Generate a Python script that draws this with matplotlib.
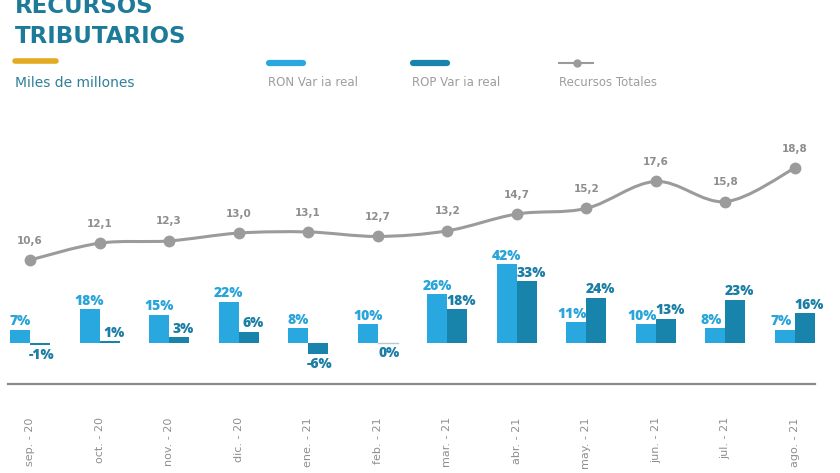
import numpy as np
import matplotlib
matplotlib.use('Agg')
import matplotlib.pyplot as plt
from matplotlib.path import Path
from matplotlib.patches import PathPatch
from matplotlib.lines import Line2D

plt.rcParams['font.family'] = 'DejaVu Sans'

# data
meses = ['sep. - 20', 'oct. - 20', 'nov. - 20', 'dic. - 20', 'ene. - 21', 'feb. - 21',
         'mar. - 21', 'abr. - 21', 'may. - 21', 'jun. - 21', 'jul. - 21', 'ago. - 21']
ron = [7, 18, 15, 22, 8, 10, 26, 42, 11, 10, 8, 7]
rop = [-1, 1, 3, 6, -6, 0, 18, 33, 24, 13, 23, 16]
totales = [10.6, 12.1, 12.3, 13.0, 13.1, 12.7, 13.2, 14.7, 15.2, 17.6, 15.8, 18.8]

c_ron = '#29a8df'
c_rop = '#1984ab'
c_ron_txt = '#2aa5da'
c_rop_txt = '#1b7ea5'
c_gris = '#9b9b9b'
c_titulo = '#1d7b99'
pct_font = dict(family=['Open Sans', 'DejaVu Sans'], fontsize=10, fontweight=800)

W, H = 840, 473
fig = plt.figure(figsize=(W / 100, H / 100), dpi=100)
fig.patch.set_facecolor('white')

# axes span pixel rows 100..384
ax = fig.add_axes([0, (H - 384) / H, 1, (384 - 100) / H])
ax2 = ax.twinx()

x = np.arange(len(meses))
bw = 0.288
ax.bar(x - bw / 2, ron, bw, color=c_ron, zorder=2)
ax.bar(x + bw / 2, rop, bw, color=c_rop, zorder=2)

for i, v in enumerate(ron):
    dx = -3 if rop[i] > v else 0
    ax.annotate(f'{v}%', (x[i] - bw / 2, v), xytext=(dx, 1), textcoords='offset points',
                ha='center', va='bottom', color=c_ron_txt, **pct_font)
for i, v in enumerate(rop):
    if v > 0:
        ax.annotate(f'{v}%', (x[i] + bw / 2, v), xytext=(3, 1), textcoords='offset points',
                    ha='center', va='bottom', color=c_rop_txt, **pct_font)
    else:
        ax.annotate(f'{v}%', (x[i] + bw / 2, v), xytext=(1, -2), textcoords='offset points',
                    ha='center', va='top', color=c_rop_txt, **pct_font)
# linea fina en barra 0%
for i, v in enumerate(rop):
    if v == 0:
        ax.plot([x[i], x[i] + bw], [0, 0], color='#b9c9d0', lw=1, zorder=2)

ax.set_xlim(-30 / 69.55, 11 + 45 / 69.55)
ax.set_ylim(-41 / 1.88, 243 / 1.88)

# smooth line (catmull-rom -> bezier)
pts = np.column_stack([x, totales]).astype(float)
verts = [tuple(pts[0])]
codes = [Path.MOVETO]
for i in range(len(pts) - 1):
    p0 = pts[max(i - 1, 0)]
    p1 = pts[i]
    p2 = pts[i + 1]
    p3 = pts[min(i + 2, len(pts) - 1)]
    c1 = p1 + (p2 - p0) / 6
    c2 = p2 - (p3 - p1) / 6
    verts += [tuple(c1), tuple(c2), tuple(p2)]
    codes += [Path.CURVE4] * 3
ax2.add_patch(PathPatch(Path(verts, codes), facecolor='none', edgecolor=c_gris, lw=2.2, zorder=3))
ax2.plot(x, totales, 'o', color=c_gris, markersize=7.5, zorder=4)
for i, v in enumerate(totales):
    ax2.annotate(f'{v:.1f}'.replace('.', ','), (x[i], v), xytext=(0, 14), textcoords='offset points',
                 ha='center', va='center', fontsize=7.5, fontweight='bold', color='#8d8d8d')
ax2.set_ylim(10.6 - 124 / 11.22, 10.6 + 160 / 11.22)
ax2.set_xlim(ax.get_xlim())

for a in (ax, ax2):
    for s in ['top', 'right', 'left']:
        a.spines[s].set_visible(False)
    a.set_yticks([])
ax2.spines['bottom'].set_visible(False)
ax.spines['bottom'].set_bounds(-22 / 69.55, 785 / 69.55)
ax.spines['bottom'].set_color('#8a8a8a')
ax.spines['bottom'].set_linewidth(1.6)

ax.set_xticks(x)
ax.set_xticklabels(meses, rotation=90, fontsize=8, color='#8f8f8f', va='top')
ax.tick_params(axis='x', length=0, pad=24)

# title and legend
fig.text(15 / W, 1 - 13 / H, 'RECURSOS', fontsize=16.5, fontweight='heavy', color=c_titulo,
         va='baseline', ha='left')
fig.text(15 / W, 1 - 43 / H, 'TRIBUTARIOS', fontsize=16.5, fontweight='heavy', color=c_titulo,
         va='baseline', ha='left')
fig.add_artist(Line2D([15 / W, 56 / W], [1 - 61 / H] * 2, color='#e3aa22', lw=4,
                      solid_capstyle='round'))
fig.text(15 / W, 1 - 83 / H, 'Miles de millones', fontsize=10, color='#2e7f9b',
         va='center', ha='left')

fig.add_artist(Line2D([269 / W, 303 / W], [1 - 63 / H] * 2, color=c_ron, lw=4.5,
                      solid_capstyle='round'))
fig.text(268 / W, 1 - 82 / H, 'RON Var ia real', fontsize=8.5, color='#9d9d9d', va='center')
fig.add_artist(Line2D([413 / W, 447 / W], [1 - 63 / H] * 2, color=c_rop, lw=4.5,
                      solid_capstyle='round'))
fig.text(412 / W, 1 - 82 / H, 'ROP Var ia real', fontsize=8.5, color='#9d9d9d', va='center')
fig.add_artist(Line2D([559 / W, 593 / W], [1 - 63 / H] * 2, color=c_gris, lw=1.5))
fig.add_artist(Line2D([577 / W], [1 - 63 / H], color=c_gris, marker='o', markersize=5))
fig.text(559 / W, 1 - 82 / H, 'Recursos Totales', fontsize=8.5, color='#9d9d9d', va='center')

fig.savefig('out.png', dpi=100)
